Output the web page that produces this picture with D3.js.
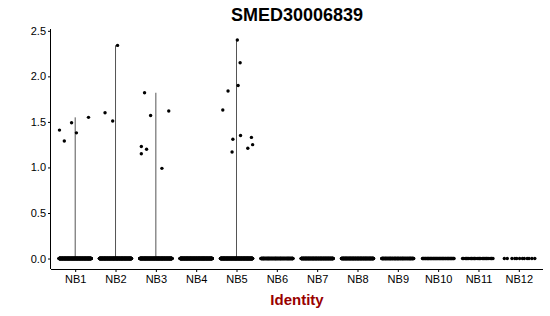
<!DOCTYPE html>
<html><head><meta charset="utf-8">
<script src="https://cdn.jsdelivr.net/npm/d3@7"></script>
<style>
body{margin:0;background:#fff;}
text{font-family:"Liberation Sans",Arial,Helvetica,sans-serif;}
</style></head>
<body><svg id="c" width="550" height="316"></svg>
<script>
const title = "SMED30006839";
const xTitle = "Identity";
const categories = ["NB1","NB2","NB3","NB4","NB5","NB6","NB7","NB8","NB9","NB10","NB11","NB12"];
const yTicks = [0, 0.5, 1.0, 1.5, 2.0, 2.5];
// number of cells with zero expression in each group
const zeroCounts = [400, 400, 400, 400, 400, 150, 220, 220, 130, 55, 28, 12];
// non-zero expressing cells: group, value, horizontal jitter (in group-width units)
const exprGroup  = ["NB1","NB1","NB1","NB1","NB1",
                    "NB2","NB2","NB2",
                    "NB3","NB3","NB3","NB3","NB3","NB3","NB3",
                    "NB5","NB5","NB5","NB5","NB5","NB5","NB5","NB5","NB5","NB5","NB5"];
const exprValue  = [1.41,1.29,1.49,1.38,1.55,
                    1.60,1.51,2.34,
                    1.82,1.57,1.62,1.23,1.20,1.15,0.99,
                    1.63,1.84,2.40,1.90,2.15,1.31,1.35,1.33,1.25,1.21,1.17];
const exprJitter = [-0.39,-0.27,-0.09,0.03,0.33,
                    -0.26,-0.07,0.05,
                    -0.28,-0.13,0.32,-0.36,-0.23,-0.36,0.15,
                    -0.34,-0.21,0.02,0.04,0.09,-0.09,0.10,0.37,0.40,0.28,-0.11];

const svg = d3.select("#c");
const L = 51, R = 543, T = 29, B = 269;
const x = d3.scalePoint().domain(categories).range([L, R]).padding(0.6);
const step = x.step();
const y = d3.scaleLinear().domain([-0.115, 2.52]).range([B, T]);

// violins (degenerate: thin lines from 0 to group max)
const maxByGroup = d3.rollup(exprGroup.map((g,i)=>({g, v:exprValue[i]})), a => d3.max(a, d=>d.v), d=>d.g);
svg.append("g").selectAll("line").data(Array.from(maxByGroup))
  .join("line")
  .attr("x1", d=>x(d[0])).attr("x2", d=>x(d[0]))
  .attr("y1", y(0)).attr("y2", d=>y(d[1]))
  .attr("stroke", "#555").attr("stroke-width", 1);

// zero points, spread across the jitter width (deterministic low-discrepancy spacing)
const zeroPts = [];
categories.forEach((c, ci) => {
  for (let i = 0; i < zeroCounts[ci]; i++) {
    const u = ((i + 0.5) * 0.6180339887 + ci * 0.137) % 1;
    zeroPts.push({c, off: (u * 2 - 1) * 0.4});
  }
});
svg.append("g").selectAll("circle").data(zeroPts).join("circle")
  .attr("cx", d => x(d.c) + d.off * step)
  .attr("cy", y(0))
  .attr("r", 1.7).attr("fill", "#000");

// expressing points
svg.append("g").selectAll("circle").data(exprValue.map((v,i)=>({c:exprGroup[i], v, j:exprJitter[i]})))
  .join("circle")
  .attr("cx", d => x(d.c) + d.j * step)
  .attr("cy", d => y(d.v))
  .attr("r", 1.7).attr("fill", "#000");

// axes
const ya = svg.append("g").attr("transform", `translate(${L},0)`)
  .call(d3.axisLeft(y).tickValues(yTicks).tickFormat(d3.format(".1f")).tickSize(3).tickSizeOuter(0).tickPadding(2));
const xa = svg.append("g").attr("transform", `translate(0,${B})`)
  .call(d3.axisBottom(x).tickSize(3).tickSizeOuter(0).tickPadding(3));
xa.select(".domain").attr("d", `M${L},0.5H${R}`);
ya.select(".domain").attr("d", `M-0.5,${T}V${B}`);
[ya, xa].forEach(a => {
  a.selectAll("text").attr("font-size", 11).attr("fill", "#000")
    .attr("font-family", '"Liberation Sans",Arial,sans-serif');
  a.selectAll("line,path").attr("stroke", "#000");
});

svg.append("text").attr("x", (L+R)/2).attr("y", 21).attr("text-anchor", "middle")
  .attr("font-size", 18).attr("font-weight", "bold").text(title);
svg.append("text").attr("x", (L+R)/2).attr("y", 305).attr("text-anchor", "middle")
  .attr("font-size", 15).attr("font-weight", "bold").attr("fill", "#990000").text(xTitle);
</script></body></html>
